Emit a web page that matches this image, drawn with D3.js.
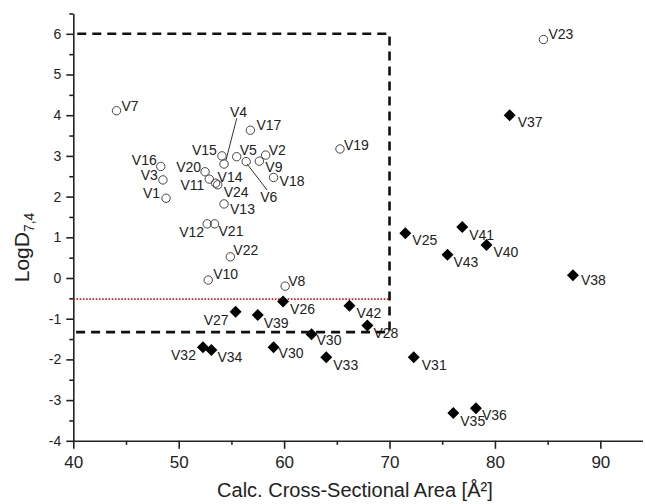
<!DOCTYPE html>
<html>
<head>
<meta charset="utf-8">
<script src="https://cdn.jsdelivr.net/npm/d3@7"></script>
<style>
  html, body { margin: 0; padding: 0; background: #fff; }
  svg { display: block; font-family: "Liberation Sans", Arial, sans-serif; }
</style>
</head>
<body>
<svg id="chart" width="645" height="504"></svg>
<script>
// Compounds shown as open circles (V1–V24)
const circleNames = ["V1","V2","V3","V4","V5","V6","V7","V8","V9","V10","V11","V12","V13","V14","V15","V16","V17","V18","V19","V20","V21","V22","V23","V24"];
const circleArea  = [48.8,58.25,48.5,54.3,55.5,56.4,44.1,60.1,57.65,52.8,52.9,52.7,54.3,53.5,54.1,48.3,56.8,59.0,65.3,52.5,53.4,54.9,84.6,53.7];
const circleLogD  = [1.96,3.02,2.41,2.80,2.98,2.86,4.11,-0.20,2.87,-0.05,2.43,1.33,1.82,2.33,3.00,2.74,3.63,2.47,3.17,2.61,1.33,0.52,5.86,2.29];

// Compounds shown as filled diamonds (V25–V43)
const diamondNames = ["V25","V26","V27","V28","V30","V30","V31","V32","V33","V34","V35","V36","V37","V38","V39","V40","V41","V42","V43"];
const diamondArea  = [71.5,59.9,55.4,67.9,62.6,59.0,72.3,52.3,64.0,53.1,76.05,78.2,81.4,87.4,57.5,79.2,76.9,66.2,75.5];
const diamondLogD  = [1.10,-0.58,-0.83,-1.17,-1.38,-1.70,-1.95,-1.70,-1.95,-1.77,-3.32,-3.20,4.00,0.07,-0.91,0.81,1.25,-0.68,0.57];

// Axis ticks
const xTicks = [40,50,60,70,80,90];
const xMinorTicks = [45,55,65,75,85];
const yTicks = [-4,-3,-2,-1,0,1,2,3,4,5,6];
const yMinorTicks = [-3.5,-2.5,-1.5,-0.5,0.5,1.5,2.5,3.5,4.5,5.5,6.5];

// Threshold box and reference line
const boxArea = 70;
const boxTopLogD = 6;
const boxBottomLogD = -1.33;
const refLineLogD = -0.52;

// Label placement (pixel offsets from the mark: dx, dy, anchor)
const circleLabelPos = [
  [-6,0,"end"],[3,0,"start"],[-5,0,"end"],[6,-47,"start"],[3,-2,"start"],[14,40,"start"],
  [5,0,"start"],[3,0,"start"],[6,11,"start"],[5,-1,"start"],[-5,11,"end"],[-3,13,"end"],
  [6,10,"start"],[2,-1,"start"],[-5,-1,"end"],[-4,-1,"end"],[6,0,"start"],[6,9,"start"],
  [4,1,"start"],[-4,0,"end"],[4,12,"start"],[3,-2,"start"],[5,0,"start"],[6,12,"start"]
];
const diamondLabelPos = [
  [7,12,"start"],[7,12,"start"],[-7,13,"end"],[6,12,"start"],[5,11,"start"],[5,11,"start"],
  [8,13,"start"],[-7,13,"end"],[7,13,"start"],[6,12,"start"],[7,13,"start"],[6,12,"start"],
  [8,12,"start"],[8,10,"start"],[6,13,"start"],[7,12,"start"],[7,13,"start"],[7,12,"start"],
  [6,12,"start"]
];
// Leader lines for crowded labels: [name, x1, y1, x2, y2] as offsets from the mark
const leaders = [
  ["V4", 2, -4, 12.7, -45.7],
  ["V6", 1, 2.5, 21, 28.5]
];

const svg = d3.select("#chart");
const x = d3.scaleLinear().domain([40, 94]).range([73.3, 642.5]);
const y = d3.scaleLinear().domain([-4, 6.5]).range([440.8, 13.45]);
const ink = "#222";

// Y axis: major ticks with labels, minor ticks without
const yAxisG = svg.append("g").attr("transform", `translate(${x(40)},0)`)
  .call(d3.axisLeft(y).tickValues(yTicks).tickSize(7).tickSizeOuter(0).tickPadding(5).tickFormat(d => String(d)));
svg.append("g").attr("transform", `translate(${x(40)},0)`)
  .call(d3.axisLeft(y).tickValues(yMinorTicks).tickSize(4).tickSizeOuter(0).tickFormat(""))
  .select(".domain").remove();

// X axis
const xAxisG = svg.append("g").attr("transform", `translate(0,${y(-4)})`)
  .call(d3.axisBottom(x).tickValues(xTicks).tickSize(8).tickSizeOuter(0).tickPadding(7).tickFormat(d => String(d)));
svg.append("g").attr("transform", `translate(0,${y(-4)})`)
  .call(d3.axisBottom(x).tickValues(xMinorTicks).tickSize(4).tickSizeOuter(0).tickFormat(""))
  .select(".domain").remove();

svg.selectAll(".domain").attr("stroke", ink).attr("stroke-width", 1.6);
svg.selectAll(".tick line").attr("stroke", ink).attr("stroke-width", 1.6);
yAxisG.selectAll(".tick text").attr("font-size", 14).attr("fill", ink);
xAxisG.selectAll(".tick text").attr("font-size", 17).attr("fill", ink);

// Axis titles
svg.append("text")
  .attr("x", (x(40) + x(94)) / 2 - 3).attr("y", 497)
  .attr("text-anchor", "middle").attr("font-size", 20).attr("fill", ink)
  .text("Calc. Cross-Sectional Area [Å²]");

const yTitle = svg.append("text")
  .attr("transform", `translate(29,${y(0.75)}) rotate(-90)`)
  .attr("text-anchor", "middle").attr("font-size", 21).attr("fill", ink);
yTitle.append("tspan").text("LogD");
yTitle.append("tspan").attr("font-size", 14).attr("dy", 5).text("7,4");

// Reference line (red dotted)
svg.append("line")
  .attr("x1", x(40)).attr("x2", x(boxArea))
  .attr("y1", y(refLineLogD)).attr("y2", y(refLineLogD))
  .attr("stroke", "#e8141c").attr("stroke-width", 1.6).attr("stroke-dasharray", "1.6,1.6");

// Leader lines
leaders.forEach(([name, x1, y1, x2, y2]) => {
  const i = circleNames.indexOf(name);
  const cx = x(circleArea[i]), cy = y(circleLogD[i]);
  svg.append("line")
    .attr("x1", cx + x1).attr("y1", cy + y1).attr("x2", cx + x2).attr("y2", cy + y2)
    .attr("stroke", "#333").attr("stroke-width", 1);
});

// Open circles
const circles = circleNames.map((n, i) => ({ n, a: circleArea[i], v: circleLogD[i], p: circleLabelPos[i] }));
svg.append("g").selectAll("circle").data(circles).join("circle")
  .attr("cx", d => x(d.a)).attr("cy", d => y(d.v)).attr("r", 4.2)
  .attr("fill", "none").attr("stroke", "#444").attr("stroke-width", 1);

// Filled diamonds
const diamonds = diamondNames.map((n, i) => ({ n, a: diamondArea[i], v: diamondLogD[i], p: diamondLabelPos[i] }));
const diamondShape = d3.symbol().type(d3.symbolSquare).size(72);
svg.append("g").selectAll("path").data(diamonds).join("path")
  .attr("d", diamondShape)
  .attr("transform", d => `translate(${x(d.a)},${y(d.v)}) rotate(45)`)
  .attr("fill", "#000");

// Labels
const labels = circles.concat(diamonds);
svg.append("g").selectAll("text").data(labels).join("text")
  .attr("x", d => x(d.a) + d.p[0]).attr("y", d => y(d.v) + d.p[1])
  .attr("text-anchor", d => d.p[2])
  .attr("font-size", 14).attr("fill", ink)
  .text(d => d.n);

// Threshold box (dashed), drawn on top
const boxPath = d3.path();
boxPath.moveTo(x(40), y(boxTopLogD));
boxPath.lineTo(x(boxArea), y(boxTopLogD));
boxPath.lineTo(x(boxArea), y(boxBottomLogD));
boxPath.lineTo(x(40), y(boxBottomLogD));
svg.append("path").attr("d", boxPath.toString())
  .attr("fill", "none").attr("stroke", "#111").attr("stroke-width", 2.6)
  .attr("stroke-dasharray", "9,6").attr("stroke-dashoffset", -4);
</script>
</body>
</html>
